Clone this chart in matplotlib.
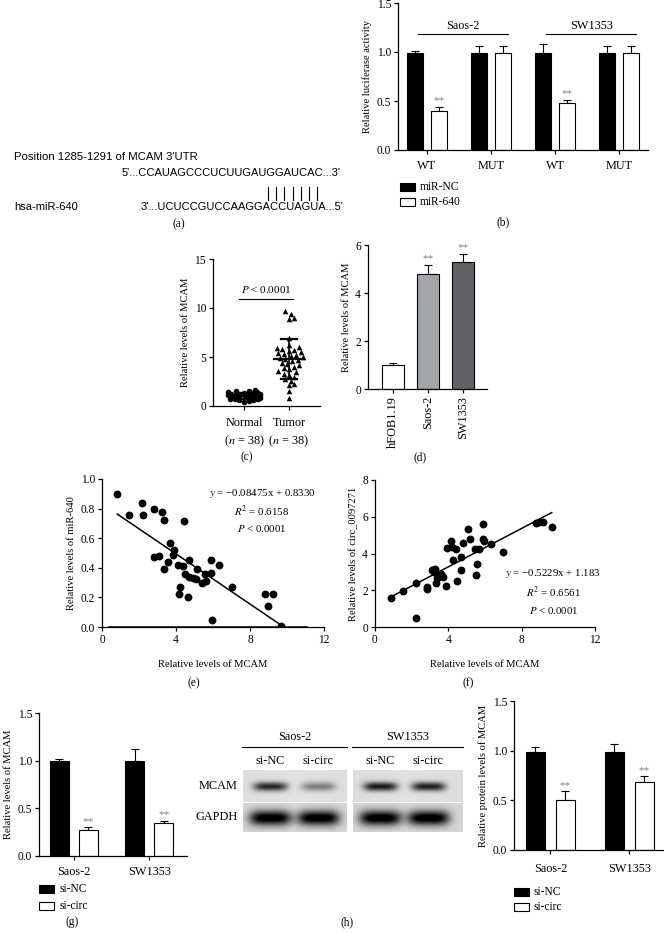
import numpy as np
import matplotlib
matplotlib.use("Agg")
import matplotlib.pyplot as plt
from matplotlib.patches import Rectangle

W, H = 664, 933

# ---- data -------------------------------------------------------------
# (b) luciferase
luc_groups = ["WT", "MUT", "WT", "MUT"]
luc_cells = ["Saos-2", "SW1353"]
luc_nc = [0.99, 0.99, 0.99, 0.99]
luc_nc_err = [0.02, 0.07, 0.09, 0.07]
luc_640 = [0.40, 0.99, 0.48, 0.99]
luc_640_err = [0.04, 0.07, 0.03, 0.07]

# (c) tissue MCAM
normal_vals = [0.45, 0.55, 0.6, 0.65, 0.7, 0.7, 0.75, 0.75, 0.8, 0.8, 0.8, 0.85, 0.85,
               0.85, 0.9, 0.9, 0.9, 0.95, 0.95, 1.0, 1.0, 1.0, 1.05, 1.05, 1.1, 1.1,
               1.15, 1.15, 1.2, 1.2, 1.25, 1.3, 1.35, 1.4, 1.45, 1.5, 1.55, 1.6]
tumor_vals = [0.8, 1.5, 2.1, 2.2, 2.6, 2.8, 3.0, 3.2, 3.3, 3.5, 3.6, 3.8, 3.9, 4.0,
              4.2, 4.3, 4.4, 4.6, 4.7, 4.8, 4.9, 5.0, 5.1, 5.2, 5.3, 5.4, 5.5, 5.6,
              5.7, 5.8, 5.9, 6.0, 6.2, 6.9, 8.9, 9.0, 9.4, 9.7]

# (d) cell lines
cell_lines = ["hFOB1.19", "Saos-2", "SW1353"]
cell_mcam = [1.0, 4.8, 5.28]
cell_err = [0.07, 0.35, 0.33]
cell_colors = ["white", "#a3a6a9", "#616266"]
cell_sig = ["", "**", "**"]

# (e) MCAM vs miR-640
e_mcam = [0.83, 1.48, 2.18, 2.23, 2.81, 3.24, 3.33, 4.43, 3.68, 3.89, 3.86, 2.81, 3.10,
          3.35, 3.57, 4.09, 4.40, 4.72, 4.49, 4.70, 4.94, 5.08, 5.15, 5.42, 5.60, 5.57,
          5.87, 5.91, 6.34, 4.22, 4.18, 4.67, 7.01, 5.96, 8.79, 9.22, 8.97, 9.66]
e_mir = [0.90, 0.76, 0.84, 0.76, 0.80, 0.78, 0.725, 0.716, 0.565, 0.52, 0.485, 0.47, 0.48,
         0.39, 0.44, 0.42, 0.41, 0.45, 0.36, 0.34, 0.33, 0.325, 0.39, 0.295, 0.31, 0.36,
         0.45, 0.365, 0.42, 0.27, 0.22, 0.20, 0.27, 0.045, 0.22, 0.22, 0.14, 0.01]
e_fit = (-0.08475, 0.8330)

# (f) MCAM vs circ_0097271
f_mcam = [0.87, 1.50, 2.25, 2.21, 2.86, 2.86, 3.12, 3.28, 3.35, 3.39, 3.59, 3.71, 3.86,
          3.90, 4.13, 4.22, 4.44, 4.26, 4.47, 4.71, 4.67, 4.78, 5.07, 5.18, 5.45, 5.49,
          5.58, 5.67, 5.87, 5.91, 5.96, 6.34, 6.99, 8.79, 8.97, 9.18, 9.64, 3.20]
f_circ = [1.59, 1.96, 2.41, 0.47, 2.19, 2.05, 3.10, 3.15, 2.37, 2.65, 2.86, 2.70, 2.23,
          4.28, 4.69, 4.37, 4.24, 3.64, 2.52, 3.79, 3.10, 4.55, 5.36, 4.77, 4.22, 2.84,
          3.41, 4.24, 5.58, 4.78, 4.69, 4.49, 4.06, 5.65, 5.72, 5.71, 5.42, 3.00]
f_fit = (0.5229, 1.183)

# (g) qPCR after knockdown
kd_cells = ["Saos-2", "SW1353"]
qpcr_nc = [1.0, 1.0]
qpcr_nc_err = [0.02, 0.12]
qpcr_si = [0.27, 0.35]
qpcr_si_err = [0.03, 0.02]

# (h) western blot quantification
prot_nc = [0.99, 0.99]
prot_nc_err = [0.05, 0.08]
prot_si = [0.50, 0.68]
prot_si_err = [0.09, 0.06]
blot_lanes = ["si-NC", "si-circ"]
blot_mcam = [[0.72, 0.38], [0.78, 0.76]]
blot_gapdh = [[0.92, 0.92], [0.92, 0.92]]

# ---- style ------------------------------------------------------------
plt.rcParams['font.family'] = ['Liberation Serif', 'DejaVu Serif']
plt.rcParams['mathtext.fontset'] = 'stix'
plt.rcParams['font.size'] = 8
plt.rcParams['axes.labelsize'] = 7.6
plt.rcParams['axes.linewidth'] = 0.9
plt.rcParams['xtick.major.size'] = 3
plt.rcParams['ytick.major.size'] = 3
plt.rcParams['xtick.major.width'] = 0.9
plt.rcParams['ytick.major.width'] = 0.9
plt.rcParams['axes.labelpad'] = 3

TICK = 8.3
CAT = 8.8

fig = plt.figure(figsize=(W / 100, H / 100), dpi=100)


def px_axes(x0, x1, y0, y1):
    return fig.add_axes([x0 / W, 1 - y1 / H, (x1 - x0) / W, (y1 - y0) / H])


def clean(ax):
    ax.spines['top'].set_visible(False)
    ax.spines['right'].set_visible(False)
    ax.tick_params(direction='out', pad=2, labelsize=TICK)


def ftext(x, y, s, **kw):
    kw.setdefault('ha', 'center')
    kw.setdefault('va', 'center')
    fig.text(x / W, 1 - y / H, s, **kw)


def legend_item(x, y, label, color):
    fig.add_artist(Rectangle((x / W, 1 - (y + 4) / H), 15 / W, 8 / H, facecolor=color,
                             edgecolor='black', lw=0.8, transform=fig.transFigure))
    ftext(x + 20, y, label, ha='left', fontsize=8.3)


def pair_bars(ax, a, a_err, b, b_err, off, width):
    x = np.arange(len(a))
    ax.bar(x - off, a, width, color='black', edgecolor='black', lw=0.8, zorder=2)
    ax.errorbar(x - off, a, yerr=[np.zeros(len(a)), a_err], fmt='none', ecolor='black',
                elinewidth=0.8, capsize=3, capthick=0.8, zorder=1)
    ax.bar(x + off, b, width, color='white', edgecolor='black', lw=0.8, zorder=2)
    ax.errorbar(x + off, b, yerr=[np.zeros(len(b)), b_err], fmt='none', ecolor='black',
                elinewidth=0.8, capsize=3, capthick=0.8, zorder=1)
    return x


def swarm(vals, ypx, xpx, diam, maxoff):
    placed, offs = [], []
    for v in vals:
        best = None
        for k in range(60):
            for s in ([0] if k == 0 else [k, -k]):
                o = s * 0.35 * diam / xpx
                if abs(o) > maxoff:
                    continue
                if all(((o - po) * xpx) ** 2 + ((v - pv) * ypx) ** 2 >= diam ** 2
                       for po, pv in placed):
                    best = o
                    break
            if best is not None:
                break
        if best is None:
            best = maxoff * (1 if len(offs) % 2 else -1) * (0.3 + 0.7 * (len(offs) % 5) / 4)
        placed.append((best, v))
        offs.append(best)
    return np.array(offs)


def stars(ax, x, y):
    ax.text(x, y, "**", ha='center', va='bottom', color='#808080', fontsize=8)


# ---- (a) sequence alignment ---------------------------------------------
sans = ['Liberation Sans', 'DejaVu Sans']
ftext(14, 157, "Position 1285-1291 of MCAM 3'UTR", ha='left', family=sans, fontsize=8.2)
ftext(341, 173, "5'...CCAUAGCCCUCUUGAUGGAUCAC...3'", ha='right', family=sans, fontsize=8.0)
for i in range(7):
    fig.add_artist(plt.Line2D([(268 + i * 8.2) / W] * 2, [1 - 187 / H, 1 - 200 / H],
                              color='black', lw=0.8, transform=fig.transFigure))
ftext(14, 207, "hsa-miR-640", ha='left', family=sans, fontsize=8.0)
ftext(343, 207, "3'...UCUCCGUCCAAGGACCUAGUA...5'", ha='right', family=sans, fontsize=8.0)
ftext(179, 224, "(a)", fontsize=8.3)

# ---- (b) luciferase -------------------------------------------------------
ax = px_axes(398, 648, 3, 150)
clean(ax)
x = pair_bars(ax, luc_nc, luc_nc_err, luc_640, luc_640_err, 0.185, 0.245)
for xi, v, e in zip(x, luc_640, luc_640_err):
    if v < 0.9:
        stars(ax, xi + 0.185, v + e + 0.015)
ax.set_xlim(-0.45, 3.45)
ax.set_ylim(0, 1.5)
ax.set_yticks([0, 0.5, 1.0, 1.5])
ax.set_yticklabels(["0.0", "0.5", "1.0", "1.5"])
ax.set_xticks(x)
ax.set_xticklabels(luc_groups, fontsize=CAT)
ax.tick_params(axis='x', pad=4)
ax.set_ylabel("Relative luciferase activity")
for i, name in enumerate(luc_cells):
    g = 2 * i
    ax.plot([g - 0.14, g + 1.27], [1.18, 1.18], color='black', lw=0.8, clip_on=False)
    ax.text(g + 0.565, 1.27, name, ha='center', va='center', fontsize=CAT)
legend_item(400, 187, "miR-NC", 'black')
legend_item(400, 202, "miR-640", 'white')
ftext(503, 222, "(b)", fontsize=8.3)

# ---- (c) tissue scatter ---------------------------------------------------
ax = px_axes(213, 320, 259, 406)
clean(ax)
n_off = swarm(normal_vals, 9.8, 45, 4.5, 0.36)
t_off = swarm(tumor_vals, 9.8, 45, 5.0, 0.34)
ax.scatter(0 + n_off, normal_vals, s=16, marker='o', color='black', lw=0, zorder=2)
ax.scatter(1 + t_off, tumor_vals, s=16, marker='^', color='black', lw=0, zorder=2)
for g, vals in enumerate([normal_vals, tumor_vals]):
    m, sd = np.mean(vals), np.std(vals, ddof=1)
    ax.plot([g - 0.33, g + 0.33], [m, m], color='black', lw=1.6, zorder=3)
    ax.plot([g, g], [m - sd, m + sd], color='black', lw=1.2, zorder=3)
    ax.plot([g - 0.17, g + 0.17], [m + sd, m + sd], color='black', lw=1.6, zorder=3)
    ax.plot([g - 0.17, g + 0.17], [m - sd, m - sd], color='black', lw=1.6, zorder=3)
ax.plot([-0.12, 1.1], [10.9, 10.9], color='black', lw=0.8)
ax.text(0.49, 11.9, r"$P$ < 0.0001", ha='center', va='center', fontsize=8)
ax.set_xlim(-0.69, 1.69)
ax.set_ylim(0, 15)
ax.set_yticks([0, 5, 10, 15])
ax.set_xticks([0, 1])
ax.set_xticklabels(["Normal\n($n$ = 38)", "Tumor\n($n$ = 38)"], fontsize=CAT, linespacing=1.45)
ax.tick_params(axis='x', pad=5)
ax.set_ylabel("Relative levels of MCAM")
ftext(247, 457, "(c)", fontsize=8.3)

# ---- (d) cell lines -------------------------------------------------------
ax = px_axes(368, 487, 245, 389)
clean(ax)
xd = np.arange(len(cell_lines))
ax.bar(xd, cell_mcam, 0.63, color=cell_colors, edgecolor='black', lw=0.8, zorder=2)
ax.errorbar(xd, cell_mcam, yerr=[np.zeros(3), cell_err], fmt='none', ecolor='black',
            elinewidth=0.8, capsize=3, capthick=0.8, zorder=1)
for xi, v, e, s in zip(xd, cell_mcam, cell_err, cell_sig):
    if s:
        stars(ax, xi, v + e + 0.1)
ax.set_xlim(-0.71, 2.69)
ax.set_ylim(0, 6)
ax.set_yticks([0, 2, 4, 6])
ax.set_xticks(xd)
ax.set_xticklabels(cell_lines, rotation=90, fontsize=CAT)
ax.set_ylabel("Relative levels of MCAM")
ftext(420, 457, "(d)", fontsize=8.3)

# ---- (e) correlation miR-640 ---------------------------------------------
ax = px_axes(102, 324, 479, 627)
clean(ax)
ax.scatter(e_mcam, e_mir, s=32, color='black', lw=0, zorder=3)
xs = np.array([min(e_mcam), max(e_mcam)])
ax.plot(xs, e_fit[0] * xs + e_fit[1], color='black', lw=1.1, zorder=2)
ax.axhline(0, xmin=0.03, xmax=0.92, color='black', lw=1.8, zorder=2)
ax.text(8.65, 0.90, r"$y$ = −0.08475x + 0.8330", ha='center', va='center', fontsize=7.8)
ax.text(8.65, 0.78, r"$R^2$ = 0.6158", ha='center', va='center', fontsize=7.8)
ax.text(8.65, 0.665, r"$P$ < 0.0001", ha='center', va='center', fontsize=7.8)
ax.set_xlim(0, 12)
ax.set_ylim(0, 1.0)
ax.set_xticks([0, 4, 8, 12])
ax.set_yticks(np.arange(0, 1.01, 0.2))
ax.set_yticklabels(["0.0", "0.2", "0.4", "0.6", "0.8", "1.0"])
ax.set_xlabel("Relative levels of MCAM", labelpad=10)
ax.set_ylabel("Relative levels of miR-640")
ftext(194, 683, "(e)", fontsize=8.3)

# ---- (f) correlation circ ------------------------------------------------
ax = px_axes(375, 595, 480, 627)
clean(ax)
ax.scatter(f_mcam, f_circ, s=32, color='black', lw=0, zorder=3)
xs = np.array([min(f_mcam), max(f_mcam)])
ax.plot(xs, f_fit[0] * xs + f_fit[1], color='black', lw=1.1, zorder=2)
ax.text(9.73, 2.93, r"$y$ = −0.5229x + 1.183", ha='center', va='center', fontsize=7.8)
ax.text(9.73, 1.9, r"$R^2$ = 0.6561", ha='center', va='center', fontsize=7.8)
ax.text(9.73, 0.92, r"$P$ < 0.0001", ha='center', va='center', fontsize=7.8)
ax.set_xlim(0, 12)
ax.set_ylim(0, 8)
ax.set_xticks([0, 4, 8, 12])
ax.set_yticks([0, 2, 4, 6, 8])
ax.set_xlabel("Relative levels of MCAM", labelpad=10)
ax.set_ylabel("Relative levels of circ_0097271")
ftext(468, 683, "(f)", fontsize=8.3)

# ---- (g) qPCR knockdown ---------------------------------------------------
ax = px_axes(39, 187, 713, 856)
clean(ax)
x = pair_bars(ax, qpcr_nc, qpcr_nc_err, qpcr_si, qpcr_si_err, 0.19, 0.25)
for xi, v, e in zip(x, qpcr_si, qpcr_si_err):
    stars(ax, xi + 0.19, v + e + 0.015)
ax.set_xlim(-0.46, 1.5)
ax.set_ylim(0, 1.5)
ax.set_yticks([0, 0.5, 1.0, 1.5])
ax.set_yticklabels(["0.0", "0.5", "1.0", "1.5"])
ax.set_xticks(x)
ax.set_xticklabels(kd_cells, fontsize=CAT)
ax.tick_params(axis='x', pad=4)
ax.set_ylabel("Relative levels of MCAM")
legend_item(39, 889, "si-NC", 'black')
legend_item(39, 906, "si-circ", 'white')
ftext(72, 922, "(g)", fontsize=8.3)

# ---- (h) western blot ------------------------------------------------------
bx = px_axes(230, 470, 725, 840)
bx.axis('off')


def blot_row(centers, intens, bw, bh, bg, nx, ny):
    xx = np.arange(nx)[None, :]
    yy = np.arange(ny)[:, None]
    img = np.full((ny, nx), bg, dtype=float)
    img += 0.04 * np.exp(-((xx - nx / 2) / (nx * 0.7)) ** 2) - 0.02
    for c, a in zip(centers, intens):
        img -= a * np.exp(-np.abs((xx - c) / bw) ** 4) * np.exp(-((yy - ny / 2) / bh) ** 2)
    return np.clip(img, 0, 1)


boxes = [(243, 347), (353, 463)]
lane_off = [27, 75]
for i, (x0, x1) in enumerate(boxes):
    nx = x1 - x0
    top = blot_row(lane_off, blot_mcam[i], 17, 4.5, 0.86, nx, 32)
    bot = blot_row(lane_off, blot_gapdh[i], 21, 7.5, 0.83, nx, 29)
    bx.imshow(top, cmap='gray', vmin=0, vmax=1, extent=(x0, x1, 802, 770), aspect='auto')
    bx.imshow(bot, cmap='gray', vmin=0, vmax=1, extent=(x0, x1, 832, 803), aspect='auto')
    bx.plot([x0 - 1, x1], [747, 747], color='black', lw=0.8)
    bx.text((x0 + x1) / 2, 737, kd_cells[i], ha='center', va='center', fontsize=CAT)
    for lo, lab in zip(lane_off, blot_lanes):
        bx.text(x0 + lo, 761, lab, ha='center', va='center', fontsize=CAT)
bx.text(238, 786, "MCAM", ha='right', va='center', fontsize=CAT)
bx.text(238, 817, "GAPDH", ha='right', va='center', fontsize=CAT)
bx.set_xlim(230, 470)
bx.set_ylim(840, 725)

ax = px_axes(514, 664, 701, 850)
clean(ax)
x = pair_bars(ax, prot_nc, prot_nc_err, prot_si, prot_si_err, 0.19, 0.24)
for xi, v, e in zip(x, prot_si, prot_si_err):
    stars(ax, xi + 0.19, v + e + 0.015)
ax.set_xlim(-0.46, 1.44)
ax.set_ylim(0, 1.5)
ax.set_yticks([0, 0.5, 1.0, 1.5])
ax.set_yticklabels(["0.0", "0.5", "1.0", "1.5"])
ax.set_xticks(x)
ax.set_xticklabels(kd_cells, fontsize=CAT)
ax.tick_params(axis='x', pad=6)
ax.set_ylabel("Relative protein levels of MCAM")
legend_item(514, 892, "si-NC", 'black')
legend_item(514, 907, "si-circ", 'white')
ftext(347, 922, "(h)", fontsize=8.3)

fig.savefig("out.png", dpi=100)
